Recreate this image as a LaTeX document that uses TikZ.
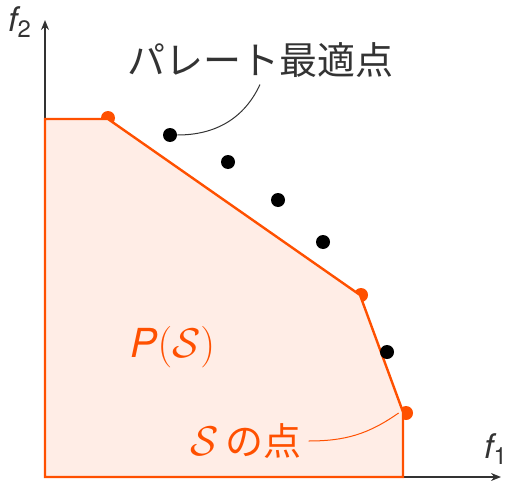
\documentclass[tikz,border=0pt]{standalone}
\usepackage{fontspec}
\usepackage{amsmath}
\setmainfont{TeX Gyre Heros}
\newfontfamily\jpfont{Noto Sans CJK JP}
\usetikzlibrary{arrows.meta}
\definecolor{frontier}{HTML}{FF5000}
\definecolor{region}{HTML}{FFEDE6}
\definecolor{ink}{HTML}{333333}

\begin{document}
\begin{tikzpicture}[
    x = 0.5pt, y = -0.5pt,
    every node/.style = {font=\fontsize{19}{22}\selectfont},
    axis/.style = {-{Stealth[length=5pt, width=4pt]}, line width=0.7pt, color=ink},
    pareto/.style = {circle, fill=black, inner sep=0pt, minimum size=7pt},
    feasible/.style = {circle, fill=frontier, inner sep=0pt, minimum size=7pt},
    leader/.style = {line width=0.5pt, color=ink}
  ]
    \useasboundingbox (0,0) rectangle (508,481);

    % Axes
    \coordinate (origin) at (45,477);
    \coordinate (f1end) at (501,477);
    \coordinate (f2end) at (45,20);
    \draw[axis] (origin) -- (f1end);
    \draw[axis] (origin) -- (f2end);
    \node[color=ink, font=\fontsize{17}{20}\selectfont] (f1lbl) at (496,449) {\itshape f\textsubscript{\upshape 1}};
    \node[color=ink, font=\fontsize{17}{20}\selectfont] (f2lbl) at (20,22) {\itshape f\textsubscript{\upshape 2}};

    % Points of S on the boundary (behind the region)
    \node[feasible] (s1) at (108,118) {};
    \node[feasible] (s2) at (361,295) {};
    \node[feasible] (s3) at (406,413) {};

    % Region P(S)
    \filldraw[fill=region, draw=frontier, line width=1.2pt, line join=miter]
      (45,119) -- (108,119) -- (360,295) -- (403,412) -- (403,477) -- (45,477) -- cycle;

    % Pareto optimal points
    \node[pareto] (p1) at (170,135) {};
    \node[pareto] (p2) at (228,162) {};
    \node[pareto] (p3) at (278,200) {};
    \node[pareto] (p4) at (323,242) {};
    \node[pareto] (p5) at (387,352) {};

    % Labels
    \node[color=ink, font=\jpfont\fontsize{19}{22}\selectfont] (paretolbl) at (260,60) {パレート最適点};
    \node[color=frontier, font=\fontsize{20}{24}\selectfont] (regionlbl) at (173,347) {\itshape P\upshape$(\mathcal{S})$};
    \node[color=frontier, font=\fontsize{20}{24}\selectfont] (pointslbl) at (246,441) {$\mathcal{S}$\,{\jpfont\fontsize{19}{22}\selectfont の点}};

    % Leaders
    \draw[leader] (paretolbl.south) to[out=-115, in=0] (p1.east);
    \draw[leader, color=frontier] (pointslbl.east) to[out=0, in=215] (s3.west);

  \end{tikzpicture}
\end{document}
